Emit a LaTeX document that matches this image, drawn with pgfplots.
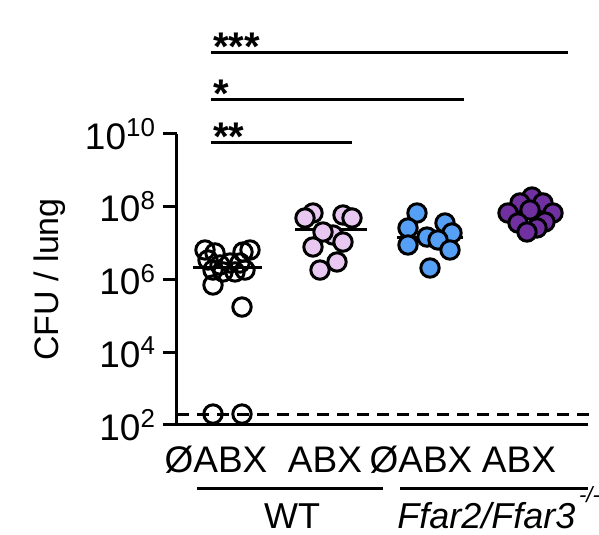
\documentclass[border=0pt]{standalone}
\usepackage{fontspec}
\setmainfont{Liberation Sans}
\usepackage{pgfplots}
\pgfplotsset{compat=1.18}

\definecolor{abxpink}{RGB}{232,200,240}
\definecolor{koblue}{RGB}{85,160,245}
\definecolor{kopurple}{RGB}{112,48,160}

\begin{document}
\begin{tikzpicture}
\begin{axis}[
    width=205.5pt, height=145.5pt, scale only axis,
    xmin=0.48, xmax=4.59,
    ymode=log, ymin=1e2, ymax=1e10,
    axis lines=left,
    axis line style={-, line width=1.5pt},
    clip=false,
    ytick={1e2,1e4,1e6,1e8,1e10},
    yticklabels={10\textsuperscript{2},10\textsuperscript{4},10\textsuperscript{6},10\textsuperscript{8},10\textsuperscript{10}},
    yminorticks=false,
    tick align=outside,
    major tick length=7pt,
    y tick style={line width=1.5pt, black},
    xtick={0.87,1.96,2.92,3.90},
    xticklabels={ØABX,ABX,ØABX,ABX},
    x tick style={draw=none},
    xticklabel style={anchor=base, yshift=-17pt},
    tick label style={font=\fontsize{18.5}{20}\selectfont},
    ylabel={CFU / lung},
    ylabel style={font=\fontsize{17}{20}\selectfont, at={(axis description cs:-0.309,0.5)}, anchor=center},
]
% detection limit
\addplot[black, line width=1.5pt, dash pattern=on 6pt off 4pt] coordinates {(0.48,200) (4.6,200)};

% WT, no ABX
\addplot[only marks, mark=o, mark size=4.6pt, mark options={draw=black, line width=1.5pt}] coordinates {
(0.76,6.47e6) (0.86,5.36e6) (1.14,5.70e6) (1.21,6.47e6) (0.79,3.44e6) (0.91,2.51e6)
(1.01,2.84e6) (1.11,2.84e6) (0.84,1.82e6) (0.94,1.61e6) (1.06,1.61e6) (1.16,1.82e6)
(0.84,7.06e5) (1.13,1.75e5) (0.84,200) (1.13,200)};

% WT, ABX
\addplot[only marks, mark=*, mark size=4.6pt, mark options={draw=black, fill=abxpink, line width=1.5pt}] coordinates {
(1.84,6.73e7) (1.76,4.91e7) (2.14,5.93e7) (2.23,4.91e7) (2.04,1.67e7) (1.94,2.02e7)
(1.84,7.83e6) (2.14,1.07e7) (2.08,3.03e6) (1.91,1.82e6)};

% Ffar2/Ffar3 -/-, no ABX
\addplot[only marks, mark=*, mark size=4.6pt, mark options={draw=black, fill=koblue, line width=1.5pt}] coordinates {
(2.88,6.73e7) (2.79,2.61e7) (3.16,3.57e7) (3.23,1.90e7) (2.98,1.47e7) (3.09,1.22e7)
(2.79,8.87e6) (3.21,6.47e6) (3.01,2.07e6)};

% Ffar2/Ffar3 -/-, ABX
\addplot[only marks, mark=*, mark size=4.6pt, mark options={draw=black, fill=kopurple, line width=1.5pt}] coordinates {
(4.03,1.85e8) (3.91,1.27e8) (4.14,1.27e8) (3.79,6.73e7) (4.24,6.73e7) (4.01,8.13e7)
(3.89,3.57e7) (4.16,3.81e7) (4.08,2.61e7) (3.98,2.02e7)};

% medians
\addplot[black, line width=1.5pt] coordinates {(0.64,2.07e6) (1.33,2.07e6)};
\addplot[black, line width=1.5pt] coordinates {(1.66,2.44e7) (2.38,2.44e7)};
\addplot[black, line width=1.5pt] coordinates {(2.68,1.47e7) (3.34,1.47e7)};
\addplot[black, line width=1.5pt] coordinates {(3.69,6.73e7) (4.31,6.73e7)};

% significance
\draw[line width=1.5pt] (axis cs:0.82,1.69e12) -- (axis cs:4.39,1.69e12);
\draw[line width=1.5pt] (axis cs:0.82,9.16e10) -- (axis cs:3.35,9.16e10);
\draw[line width=1.5pt] (axis cs:0.82,5.66e9) -- (axis cs:2.23,5.66e9);
\node[anchor=base west, inner sep=0pt, font=\fontsize{20}{20}\bfseries] at (axis cs:0.84,1.08e12) {***};
\node[anchor=base west, inner sep=0pt, font=\fontsize{20}{20}\bfseries] at (axis cs:0.84,5.52e10) {*};
\node[anchor=base west, inner sep=0pt, font=\fontsize{20}{20}\bfseries] at (axis cs:0.84,3.63e9) {**};

% genotype groups
\draw[line width=1.5pt] (axis cs:0.68,1.85) -- (axis cs:2.54,1.85);
\draw[line width=1.5pt] (axis cs:2.71,1.85) -- (axis cs:4.59,1.85);
\node[anchor=base, inner sep=0pt, font=\fontsize{18}{20}\selectfont] at (axis cs:1.63,0.145) {WT};
\node[anchor=base west, inner sep=0pt, font=\fontsize{18}{20}\selectfont] at (axis cs:2.68,0.145)
  {\textit{Ffar2/Ffar3}\raisebox{0.72em}{\fontsize{11}{11}\selectfont\,\textit{-/-}}};

\coordinate (bbTL) at (axis cs:-1.29,4.83e13);
\coordinate (bbBR) at (axis cs:4.70,0.1);
\end{axis}
\pgfresetboundingbox
\path[use as bounding box] (bbTL) rectangle (bbBR);
\end{tikzpicture}
\end{document}
